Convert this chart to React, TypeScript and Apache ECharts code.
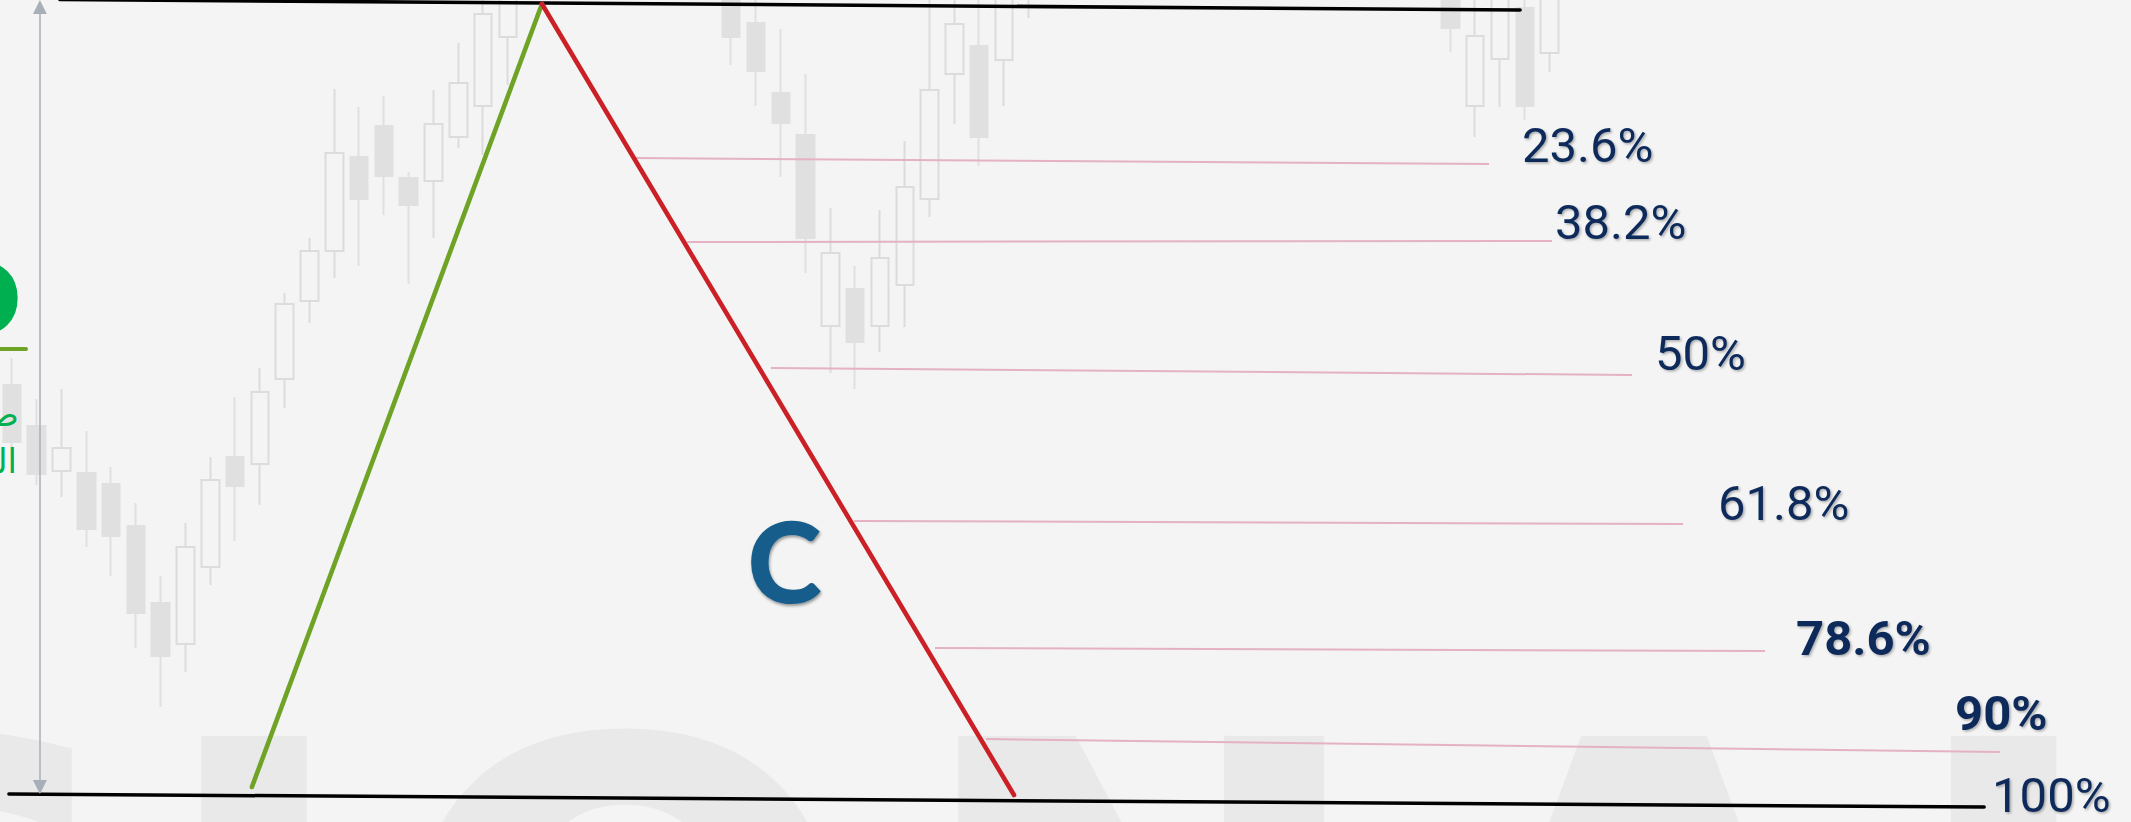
import React, { useEffect, useRef } from "react";
import * as echarts from "echarts";

const W = 2131;
const H = 822;

// ---- candles: bar index, open, close, low, high (price) ----
const barIndex = [0, 1, 2, 3, 4, 5, 6, 7, 8, 9, 10, 11, 12, 13, 14, 15, 16, 17, 18, 19, 20,
  29, 30, 31, 32, 33, 34, 35, 36, 37, 38, 39, 40, 41,
  58, 59, 60, 61, 62];
const opens = [1.2615, 1.2574, 1.2529, 1.2527, 1.2516, 1.2474, 1.2397, 1.2356, 1.2433, 1.2543, 1.2536, 1.2621, 1.2699, 1.2749, 1.2843, 1.2874, 1.2822, 1.2819, 1.2863, 1.2894, 1.2963,
  1.3015, 1.2977, 1.2907, 1.2865, 1.2674, 1.2711, 1.2674, 1.2715, 1.2801, 1.2926, 1.2954, 1.2940, 1.3030,
  1.3010, 1.2894, 1.2941, 1.2992, 1.2947];
const closes = [1.2558, 1.2526, 1.2552, 1.2471, 1.2464, 1.2387, 1.2344, 1.2453, 1.2520, 1.2514, 1.2608, 1.2696, 1.2749, 1.2847, 1.2801, 1.2824, 1.2795, 1.2876, 1.2917, 1.2986, 1.3015,
  1.2963, 1.2929, 1.2877, 1.2762, 1.2747, 1.2658, 1.2742, 1.2813, 1.2910, 1.2976, 1.2863, 1.3010, 1.3050,
  1.2972, 1.2964, 1.3010, 1.2894, 1.3010];
const lows = [1.2548, 1.2515, 1.2503, 1.2453, 1.2424, 1.2352, 1.2293, 1.2328, 1.2415, 1.2459, 1.2495, 1.2592, 1.2677, 1.2722, 1.2734, 1.2785, 1.2716, 1.2762, 1.2852, 1.2845, 1.2915,
  1.2935, 1.2894, 1.2823, 1.2727, 1.2627, 1.2611, 1.2648, 1.2673, 1.2783, 1.2876, 1.2834, 1.2894, 1.2982,
  1.2948, 1.2863, 1.2893, 1.2880, 1.2928];
const highs = [1.2642, 1.2601, 1.2611, 1.2569, 1.2533, 1.2497, 1.2424, 1.2477, 1.2543, 1.2603, 1.2632, 1.2707, 1.2762, 1.2911, 1.2893, 1.2904, 1.2828, 1.2910, 1.2957, 1.3008, 1.3025,
  1.3025, 1.3010, 1.2971, 1.2926, 1.2792, 1.2734, 1.2790, 1.2859, 1.3010, 1.3010, 1.3010, 1.3020, 1.3060,
  1.3020, 1.3010, 1.3020, 1.3010, 1.3020];

// ---- structure lines [barIndex, price] ----
const topLine = [[1.935, 1.30005], [60.81, 1.2990]];
const bottomLine = [[-0.121, 1.2206], [79.52, 1.2193]];
const greenLeg = [[9.677, 1.2213], [21.371, 1.2996]];
const redLeg = [[21.371, 1.2996], [40.403, 1.2205]];
const rangeArrow = [[1.129, 1.2993], [1.129, 1.2213]];

// ---- retracement levels ----
const fibStartX = [25.081, 27.218, 30.605, 33.952, 37.218, 39.274];
const fibStartP = [1.2842, 1.2758, 1.2632, 1.2479, 1.2352, 1.2261];
const fibEndX = [59.556, 62.097, 65.323, 67.379, 70.685, 80.161];
const fibEndP = [1.2836, 1.2759, 1.2625, 1.2476, 1.2349, 1.2248];

const levelLabels = ["23.6%", "38.2%", "50%", "61.8%", "78.6%", "90%", "100%"];
const labelX = [60.887, 62.218, 66.25, 68.79, 71.935, 78.347, 79.839];
const labelP = [1.2855, 1.2778, 1.2647, 1.2497, 1.2362, 1.2287, 1.2205];
const boldLabels = ["78.6%", "90%"];

const waveLabel = "C";
const wavePoint = [31.149, 1.2441];

const watermarkLetters = ["S", "I", "O", "N", "A", "L"];
const arabicLines = ["صاعدة الموجة", "الموجة الصاعدة"];

function buildOption(): any {
  const candleData = barIndex.map((b, i) => [b, opens[i], closes[i], lows[i], highs[i]]);
  const fibSegments = fibStartX.map((x, i) => ({
    coords: [[x, fibStartP[i]], [fibEndX[i], fibEndP[i]]],
  }));
  const labelData = levelLabels.map((name, i) => ({
    name,
    value: [labelX[i], labelP[i]],
    label: boldLabels.includes(name) ? { fontWeight: "bold" } : undefined,
  }));

  const wmX = [-62, 254, 625, 1141, 1644, 2078];

  const graphic: any[] = [];
  watermarkLetters.forEach((t, i) => {
    graphic.push({
      type: "text",
      z: -10,
      silent: true,
      style: {
        text: t,
        x: wmX[i],
        y: 950,
        fill: "#e9e9e9",
        font: 'bold 560px "DejaVu Sans"',
        lineHeight: 480,
        align: "center",
        verticalAlign: "middle",
        textAlign: "center",
        textVerticalAlign: "middle",
      },
    });
  });
  // left heading (cut by the canvas edge)
  graphic.push({
    type: "text",
    z: 50,
    silent: true,
    style: {
      text: "D",
      x: 23,
      y: 300,
      fill: "#00b050",
      font: 'bold 104px "DejaVu Sans"',
      align: "right",
      verticalAlign: "middle",
      textAlign: "right",
      textVerticalAlign: "middle",
      shadowColor: "rgba(0,60,20,0.5)",
      shadowBlur: 3,
      shadowOffsetX: -2,
      shadowOffsetY: 1,
    },
  });
  graphic.push({
    type: "line",
    z: 50,
    silent: true,
    shape: { x1: 0, y1: 349, x2: 26, y2: 349 },
    style: { stroke: "#6ea325", lineWidth: 4, lineCap: "round" },
  });
  const arY = [414, 461];
  const arX = [19, 17];
  arabicLines.forEach((t, i) => {
    graphic.push({
      type: "text",
      z: 50,
      silent: true,
      style: {
        text: t,
        x: arX[i],
        y: arY[i],
        fill: "#00b050",
        font: '34px "DejaVu Sans"',
        align: "right",
        verticalAlign: "middle",
        textAlign: "right",
        textVerticalAlign: "middle",
      },
    });
  });

  const labelStyle = {
    show: true,
    position: "right",
    distance: 0,
    align: "left",
    verticalAlign: "middle",
    formatter: "{b}",
    color: "#0c2a5a",
    opacity: 1,
    fontFamily: "Roboto",
    fontSize: 49,
    textShadowColor: "rgba(0,0,0,0.3)",
    textShadowBlur: 2,
    textShadowOffsetX: 1.5,
    textShadowOffsetY: 1.5,
  };

  return {
    animation: false,
    backgroundColor: "#f4f4f4",
    grid: { left: 0, right: 0, top: 0, bottom: 0, containLabel: false },
    xAxis: { type: "value", min: -0.48, max: 85.44, show: false },
    yAxis: { type: "value", min: 1.2178, max: 1.3, show: false, scale: true },
    graphic,
    series: [
      {
        type: "candlestick",
        data: candleData,
        barWidth: 18,
        silent: true,
        z: 1,
        itemStyle: {
          color: "#f4f4f4",
          color0: "#e0e0e0",
          borderColor: "#dcdcdc",
          borderColor0: "#e0e0e0",
          borderWidth: 2,
        },
      },
      {
        type: "lines",
        coordinateSystem: "cartesian2d",
        silent: true,
        z: 2,
        symbol: "none",
        lineStyle: { color: "#e4b2c1", width: 2, opacity: 1 },
        data: fibSegments,
      },
      {
        type: "lines",
        coordinateSystem: "cartesian2d",
        silent: true,
        z: 3,
        symbol: "none",
        lineStyle: { color: "#000000", width: 3.5, opacity: 1, cap: "round" },
        data: [{ coords: topLine }, { coords: bottomLine }],
      },
      {
        type: "lines",
        coordinateSystem: "cartesian2d",
        silent: true,
        z: 3,
        symbol: ["triangle", "triangle"],
        symbolSize: 14,
        lineStyle: { color: "#a9afb8", width: 1.5, opacity: 1 },
        itemStyle: { color: "#a9afb8" },
        data: [{ coords: rangeArrow }],
      },
      {
        type: "line",
        data: greenLeg,
        showSymbol: false,
        silent: true,
        z: 4,
        lineStyle: { color: "#6ea325", width: 4.6, cap: "round" },
      },
      {
        type: "line",
        data: redLeg,
        showSymbol: false,
        silent: true,
        z: 4,
        lineStyle: { color: "#cc2027", width: 4.6, cap: "round" },
      },
      {
        type: "scatter",
        data: labelData,
        symbolSize: 0,
        silent: true,
        z: 5,
        itemStyle: { color: "transparent", opacity: 1 },
        label: labelStyle,
      },
      {
        type: "scatter",
        data: [{ name: waveLabel, value: wavePoint }],
        symbolSize: 0,
        silent: true,
        z: 5,
        itemStyle: { color: "transparent", opacity: 1 },
        label: {
          show: true,
          position: "right",
          distance: 0,
          align: "center",
          verticalAlign: "middle",
          formatter: "{b}",
          color: "#155d8c",
          opacity: 1,
          fontFamily: "Lato",
          fontWeight: 900,
          fontSize: 113,
          textShadowColor: "rgba(0,0,0,0.4)",
          textShadowBlur: 3,
          textShadowOffsetX: 1,
          textShadowOffsetY: 2,
        },
      },
    ],
  };
}

export default function App() {
  const ref = useRef<HTMLDivElement>(null);
  useEffect(() => {
    document.body.style.margin = "0";
    const chart = echarts.init(ref.current as HTMLDivElement, undefined, {
      renderer: "svg",
      width: W,
      height: H,
    });
    chart.setOption(buildOption());
    return () => chart.dispose();
  }, []);
  return <div ref={ref} style={{ width: W, height: H }} />;
}
